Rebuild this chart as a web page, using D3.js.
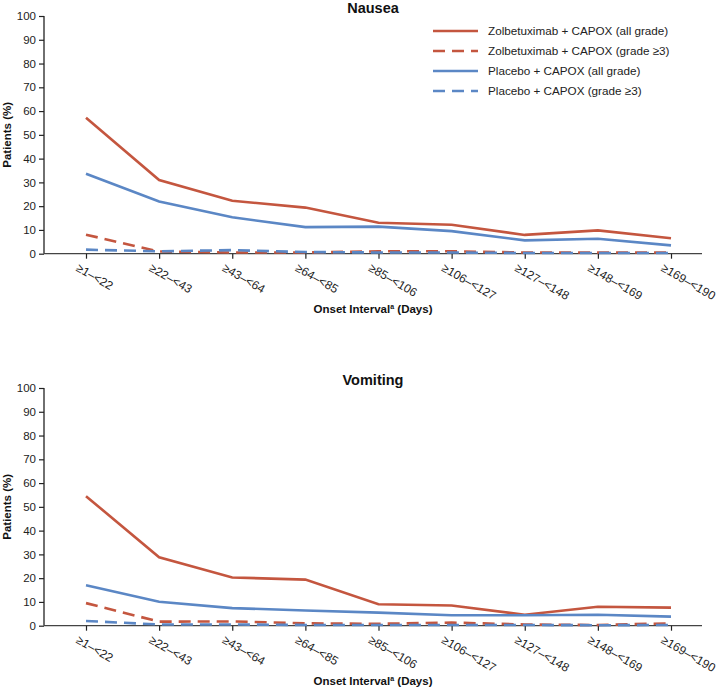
<!DOCTYPE html>
<html><head><meta charset="utf-8">
<script src="https://cdn.jsdelivr.net/npm/d3@7"></script>
<style>body{margin:0;background:#fff;} text{font-family:"Liberation Sans",Arial,sans-serif;}</style>
</head><body>
<svg id="c" width="720" height="690"></svg>
<script>
const categories = ["≥1–<22","≥22–<43","≥43–<64","≥64–<85","≥85–<106","≥106–<127","≥127–<148","≥148–<169","≥169–<190"];
const yTicks = [0,10,20,30,40,50,60,70,80,90,100];
const seriesNames = ["Zolbetuximab + CAPOX (all grade)","Zolbetuximab + CAPOX (grade ≥3)","Placebo + CAPOX (all grade)","Placebo + CAPOX (grade ≥3)"];
const nauseaZolAll = [57.2,31.0,22.3,19.4,13.0,12.2,7.9,9.8,6.5];
const nauseaZolG3  = [8.0,0.9,0.5,0.5,1.0,1.0,0.5,0.5,0.5];
const nauseaPlaAll = [33.6,22.0,15.3,11.2,11.4,9.5,5.6,6.3,3.5];
const nauseaPlaG3  = [1.7,1.0,1.5,0.7,0.5,0.5,0.3,0.3,0.3];
const vomitZolAll = [54.5,28.8,20.3,19.4,9.0,8.5,4.6,8.0,7.6];
const vomitZolG3  = [9.5,1.7,1.8,1.0,0.8,1.3,0.5,0.3,1.0];
const vomitPlaAll = [17.0,10.1,7.4,6.4,5.5,4.4,4.4,4.6,3.8];
const vomitPlaG3  = [2.0,0.5,0.5,0.3,0.3,0.3,0.3,0.2,0.3];

const RED = "#c4563f", BLUE = "#5b87c5";
const styles = [
  {color:RED, dash:null},
  {color:RED, dash:"12,7"},
  {color:BLUE, dash:null},
  {color:BLUE, dash:"12,7"}
];

const svg = d3.select("#c");
const x = d3.scalePoint().domain(categories).range([86,671]);

function panel(oy, title, data, legend){
  const g = svg.append("g").attr("transform",`translate(0,${oy})`);
  const y = d3.scaleLinear().domain([0,100]).range([253.7,16]);
  // y axis
  const ya = g.append("g").attr("transform","translate(44,0)")
    .call(d3.axisLeft(y).tickValues(yTicks).tickSize(5).tickPadding(3));
  ya.select(".domain").attr("stroke","#222").attr("stroke-width",1.3).attr("d",`M0,${y(100)}V${y(0)}`);
  ya.selectAll(".tick line").attr("stroke","#222").attr("stroke-width",1.2);
  ya.selectAll(".tick text").attr("font-size","11.5px").attr("fill","#222").style("font-family","Liberation Sans, Arial, sans-serif");
  // x axis
  const xa = g.append("g").attr("transform",`translate(0,${y(0)})`)
    .call(d3.axisBottom(x).tickSize(5).tickSizeOuter(0));
  xa.select(".domain").attr("stroke","#444").attr("stroke-width",1.3).attr("d","M44,0H702");
  xa.selectAll(".tick line").attr("stroke","#222").attr("stroke-width",1.2);
  xa.selectAll(".tick text")
    .attr("font-size","12px").attr("fill","#222")
    .style("font-family","Liberation Sans, Arial, sans-serif")
    .attr("text-anchor","start")
    .attr("transform","translate(-7,9) rotate(30)")
    .attr("y",0).attr("dy","0.72em").attr("x",0);
  // lines
  const line = d3.line().x((d,i)=>x(categories[i])).y(d=>y(d));
  data.forEach((s,k)=>{
    g.append("path").datum(s).attr("d",line).attr("fill","none")
      .attr("stroke",styles[k].color).attr("stroke-width",2.6)
      .attr("stroke-dasharray",styles[k].dash);
  });
  // title
  g.append("text").attr("x",373).attr("y",13).attr("text-anchor","middle")
    .attr("font-size","14.5px").attr("font-weight","bold").attr("fill","#111").text(title);
  // x label
  const xl = g.append("text").attr("x",373).attr("y",313).attr("text-anchor","middle")
    .attr("font-size","11.5px").attr("font-weight","bold").attr("fill","#111");
  xl.append("tspan").text("Onset Interval");
  xl.append("tspan").attr("font-size","7px").attr("dy","-4").text("a");
  xl.append("tspan").attr("dy","4").text(" (Days)");
  // y label
  g.append("text").attr("transform",`translate(11,${(y(0)+y(100))/2}) rotate(-90)`)
    .attr("text-anchor","middle").attr("font-size","11.5px").attr("font-weight","bold").attr("fill","#111")
    .text("Patients (%)");
  if(legend){
    const lg = g.append("g");
    seriesNames.forEach((n,k)=>{
      const ry = 31 + k*20;
      lg.append("line").attr("x1",433).attr("x2",478).attr("y1",ry).attr("y2",ry)
        .attr("stroke",styles[k].color).attr("stroke-width",2.6).attr("stroke-dasharray",styles[k].dash);
      lg.append("text").attr("x",488).attr("y",ry+4).attr("font-size","11.7px").attr("fill","#222").text(n);
    });
  }
}
panel(0,"Nausea",[nauseaZolAll,nauseaZolG3,nauseaPlaAll,nauseaPlaG3],true);
panel(372,"Vomiting",[vomitZolAll,vomitZolG3,vomitPlaAll,vomitPlaG3],false);
</script>
</body></html>
